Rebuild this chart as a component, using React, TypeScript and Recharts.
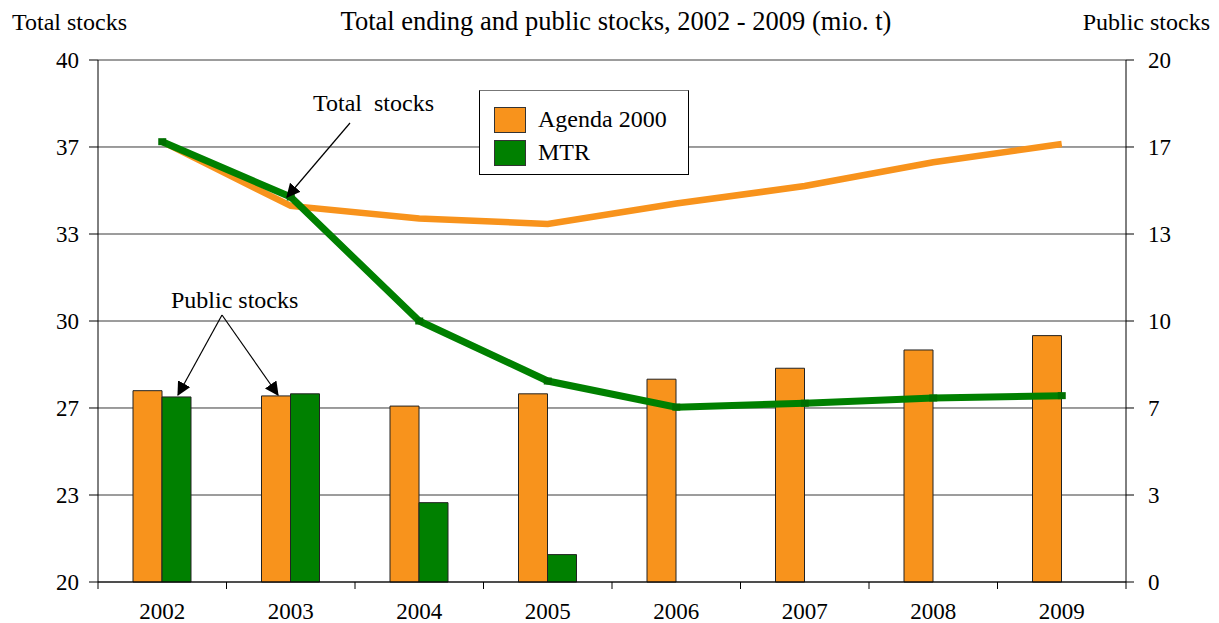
import { ComposedChart, Bar, Line, XAxis, YAxis, CartesianGrid } from 'recharts'

// Years on the category axis
const years = ['2002', '2003', '2004', '2005', '2006', '2007', '2008', '2009']

// Total stocks (left axis, mio. t)
const agendaTotal = [36.87, 34.41, 33.93, 33.72, 34.5, 35.17, 36.08, 36.78]
const mtrTotal = [36.87, 34.75, 30.0, 27.7, 26.7, 26.85, 27.05, 27.14]

// Public stocks (right axis, mio. t)
const agendaPublic = [7.33, 7.13, 6.74, 7.21, 7.77, 8.19, 8.89, 9.44]
const mtrPublic = [7.09, 7.21, 3.04, 1.05, null, null, null, null]

const leftTicks = [20, 23.333, 26.667, 30, 33.333, 36.667, 40]
const rightTicks = [0, 3.333, 6.667, 10, 13.333, 16.667, 20]

const seriesNames = ['Agenda 2000', 'MTR']

const ORANGE = '#F8931C'
const GREEN = '#008000'
const FONT = '"Liberation Serif", "Times New Roman", serif'

const W = 1219
const H = 623
const PLOT_LEFT = 98
const PLOT_RIGHT = 1126
const PLOT_TOP = 60
const PLOT_BOTTOM = 582
const BAND = (PLOT_RIGHT - PLOT_LEFT) / years.length

const data = years.map((year, i) => ({
  year,
  agendaTotal: agendaTotal[i],
  mtrTotal: mtrTotal[i],
  agendaPublic: agendaPublic[i],
  mtrPublic: mtrPublic[i],
}))

const XTick = (props: any) => {
  const { x, y, payload, index } = props
  return (
    <g>
      <line x1={x - BAND / 2} x2={x - BAND / 2} y1={y} y2={y + 7} stroke="#000" />
      {index === years.length - 1 && (
        <line x1={x + BAND / 2} x2={x + BAND / 2} y1={y} y2={y + 7} stroke="#000" />
      )}
      <text x={x} y={y + 37} textAnchor="middle" fontSize={23} fontFamily={FONT} fill="#000">
        {payload.value}
      </text>
    </g>
  )
}

const SquareDot = (props: any) => {
  const { cx, cy, index } = props
  if (cx == null || cy == null) return <g key={`sq-${index}`} />
  return <rect key={`sq-${index}`} x={cx - 4} y={cy - 3.5} width={8} height={7} fill="#006f00" />
}

export default function App() {
  const tickStyle = { fontSize: 23, fill: '#000', fontFamily: FONT }
  return (
    <div style={{ position: 'absolute', left: 0, top: 0, width: W, height: H, background: '#fff', fontFamily: FONT }}>
      <ComposedChart
        width={W}
        height={H}
        data={data}
        margin={{ top: PLOT_TOP, right: 0, bottom: 0, left: 0 }}
        barGap={0}
      >
        <CartesianGrid yAxisId="left" vertical={false} stroke="#3a3a3a" />
        <XAxis
          dataKey="year"
          height={H - PLOT_BOTTOM}
          tickLine={false}
          tickSize={0}
          tickMargin={0}
          axisLine={{ stroke: '#000' }}
          tick={<XTick />}
          interval={0}
        />
        <YAxis
          yAxisId="left"
          width={PLOT_LEFT}
          domain={[20, 40]}
          ticks={leftTicks}
          tickFormatter={(v: number) => String(Math.round(v))}
          axisLine={{ stroke: '#000' }}
          tickLine={{ stroke: '#000' }}
          tickSize={9}
          tickMargin={10}
          tick={tickStyle}
          interval={0}
        />
        <YAxis
          yAxisId="right"
          orientation="right"
          width={W - PLOT_RIGHT}
          domain={[0, 20]}
          ticks={rightTicks}
          tickFormatter={(v: number) => String(Math.round(v))}
          axisLine={{ stroke: '#000' }}
          tickLine={{ stroke: '#000' }}
          tickSize={8}
          tickMargin={14}
          tick={tickStyle}
          interval={0}
        />
        <Bar yAxisId="right" dataKey="agendaPublic" barSize={29} fill={ORANGE} stroke="#222" strokeWidth={1} isAnimationActive={false} />
        <Bar yAxisId="right" dataKey="mtrPublic" barSize={29} fill={GREEN} stroke="#222" strokeWidth={1} isAnimationActive={false} />
        <Line yAxisId="left" dataKey="agendaTotal" stroke={ORANGE} strokeWidth={6.5} dot={false} isAnimationActive={false} />
        <Line yAxisId="left" dataKey="mtrTotal" stroke={GREEN} strokeWidth={7} dot={<SquareDot />} isAnimationActive={false} />
      </ComposedChart>

      {/* legend */}
      <div
        style={{
          position: 'absolute',
          left: 479,
          top: 90,
          width: 210,
          height: 85,
          border: '1px solid #000',
          borderTopColor: '#777',
          background: '#fff',
          boxSizing: 'border-box',
          padding: '12px 0 0 14px',
        }}
      >
        {seriesNames.map((name, i) => (
          <div key={name} style={{ display: 'flex', alignItems: 'center', height: 33, fontSize: 24, lineHeight: '33px' }}>
            <span
              style={{
                display: 'inline-block',
                width: 32,
                height: 26,
                background: i === 0 ? ORANGE : GREEN,
                border: '1px solid #333',
                boxSizing: 'border-box',
                marginRight: 12,
              }}
            />
            {name}
          </div>
        ))}
      </div>

      {/* titles and annotations */}
      <svg width={W} height={H} style={{ position: 'absolute', left: 0, top: 0, pointerEvents: 'none' }}>
        <defs>
          <marker id="arrBig" viewBox="0 0 12 12" refX="11" refY="6" markerWidth="14" markerHeight="14" markerUnits="userSpaceOnUse" orient="auto">
            <path d="M0,0 L12,6 L0,12 z" fill="#000" />
          </marker>
        </defs>
        <g fontFamily={FONT} fill="#000">
          <text x={12} y={30} fontSize={24}>Total stocks</text>
          <text x={616} y={30} fontSize={26.5} textAnchor="middle">Total ending and public stocks, 2002 - 2009 (mio. t)</text>
          <text x={1210} y={30} fontSize={24} textAnchor="end">Public stocks</text>
          <text x={313} y={111} fontSize={24} xmlSpace="preserve">Total  stocks</text>
          <text x={171} y={308} fontSize={24}>Public stocks</text>
        </g>
        <line x1={350} y1={123} x2={287} y2={197} stroke="#000" strokeWidth={1.2} markerEnd="url(#arrBig)" />
        <line x1={222} y1={315} x2={178} y2={395} stroke="#000" strokeWidth={1.2} markerEnd="url(#arrBig)" />
        <line x1={222} y1={315} x2={278} y2={395} stroke="#000" strokeWidth={1.2} markerEnd="url(#arrBig)" />
      </svg>
    </div>
  )
}
